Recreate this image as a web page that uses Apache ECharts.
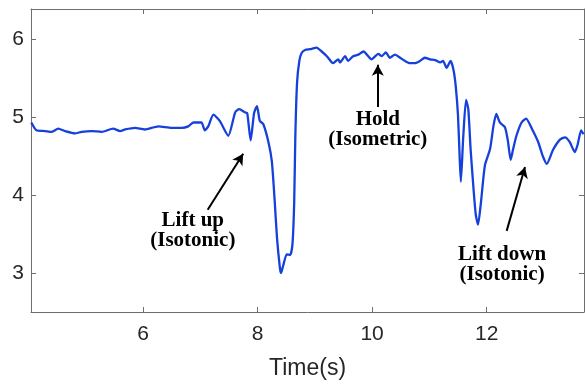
<!DOCTYPE html>
<html>
<head>
<meta charset="utf-8">
<script src="https://cdn.jsdelivr.net/npm/echarts@6/dist/echarts.min.js"></script>
<style>
  html, body { margin: 0; padding: 0; background: #fff; }
  #chart { width: 585px; height: 385px; }
</style>
</head>
<body>
<div id="chart"></div>
<script>
// time (s) and signal values
const times = [
  4.05, 4.14, 4.29, 4.41, 4.52, 4.64, 4.81, 4.93, 5.10, 5.28,
  5.48, 5.60, 5.69, 5.86, 6.03, 6.27, 6.50, 6.68, 6.79, 6.88,
  7.02, 7.08, 7.14, 7.23, 7.34, 7.49, 7.61, 7.68, 7.78, 7.82,
  7.88, 7.94, 7.99, 8.04, 8.10, 8.19, 8.25, 8.30, 8.34, 8.39,
  8.41, 8.45, 8.51, 8.57, 8.61, 8.64, 8.66, 8.69, 8.73, 8.77,
  8.83, 8.92, 9.03, 9.12, 9.21, 9.32, 9.41, 9.44, 9.53, 9.58,
  9.67, 9.76, 9.85, 9.92, 9.99, 10.11, 10.17, 10.24, 10.31, 10.40,
  10.49, 10.57, 10.66, 10.75, 10.84, 10.92, 11.01, 11.10, 11.19, 11.24,
  11.30, 11.37, 11.42, 11.46, 11.50, 11.53, 11.55, 11.59, 11.64, 11.68,
  11.72, 11.77, 11.81, 11.85, 11.90, 11.97, 12.06, 12.12, 12.17, 12.23,
  12.32, 12.37, 12.42, 12.46, 12.52, 12.61, 12.69, 12.79, 12.90, 12.98,
  13.05, 13.16, 13.28, 13.37, 13.45, 13.54, 13.59, 13.65, 13.69
];
const values = [
  4.93, 4.83, 4.82, 4.81, 4.85, 4.82, 4.79, 4.81, 4.82, 4.81,
  4.85, 4.82, 4.84, 4.86, 4.84, 4.88, 4.86, 4.86, 4.88, 4.93,
  4.93, 4.83, 4.88, 5.03, 4.95, 4.76, 5.06, 5.10, 5.06, 5.05,
  4.70, 5.05, 5.14, 4.95, 4.91, 4.68, 4.43, 3.92, 3.45, 3.07,
  3.00, 3.10, 3.24, 3.23, 3.37, 3.90, 4.75, 5.44, 5.72, 5.82,
  5.86, 5.87, 5.89, 5.84, 5.78, 5.69, 5.74, 5.70, 5.78, 5.72,
  5.78, 5.80, 5.84, 5.79, 5.74, 5.81, 5.78, 5.83, 5.76, 5.80,
  5.76, 5.72, 5.69, 5.69, 5.72, 5.76, 5.74, 5.73, 5.70, 5.72,
  5.63, 5.72, 5.61, 5.40, 5.02, 4.47, 4.17, 4.72, 5.22, 5.10,
  4.59, 4.09, 3.75, 3.62, 3.90, 4.38, 4.59, 4.89, 5.04, 4.93,
  4.87, 4.70, 4.45, 4.58, 4.76, 4.93, 4.98, 4.85, 4.68, 4.50,
  4.40, 4.58, 4.71, 4.74, 4.68, 4.55, 4.65, 4.83, 4.78
];
const xTicks = [6, 8, 10, 12];
const yTicks = [3, 4, 5, 6];

// annotations: [fromT, fromV, toT, toV]
const arrows = [
  [7.13, 3.81, 7.75, 4.53],
  [10.10, 5.13, 10.10, 5.67],
  [12.35, 3.54, 12.67, 4.36]
];
const notes = [
  { t: 6.87, v: 3.675, text: 'Lift up' },
  { t: 6.87, v: 3.42, text: '(Isotonic)' },
  { t: 10.10, v: 4.963, text: 'Hold' },
  { t: 10.10, v: 4.71, text: '(Isometric)' },
  { t: 12.27, v: 3.23, text: 'Lift down' },
  { t: 12.27, v: 2.98, text: '(Isotonic)' }
];

const X_MIN = 4.045, X_MAX = 13.7;
const Y_MIN = 2.5, Y_MAX = 6.385;

const chart = echarts.init(document.getElementById('chart'), null, { renderer: 'canvas' });

const axisLine = { show: true, lineStyle: { color: '#6e6e6e', width: 1 } };
const tickStyle = { color: '#6e6e6e', width: 1 };

const option = {
  animation: false,
  grid: { left: 31, right: 1, top: 9, bottom: 70, containLabel: false },
  xAxis: [
    {
      type: 'value', min: X_MIN, max: X_MAX, position: 'bottom',
      name: 'Time(s)', nameLocation: 'middle', nameGap: 45,
      nameTextStyle: { fontFamily: 'Liberation Sans', fontSize: 23, color: '#262626' },
      axisLine: axisLine,
      axisTick: { show: true, inside: true, length: 5, lineStyle: tickStyle, customValues: xTicks },
      axisLabel: { show: true, customValues: xTicks, margin: 12, fontFamily: 'Liberation Sans', fontSize: 21, color: '#262626' },
      splitLine: { show: false }
    },
    {
      type: 'value', min: X_MIN, max: X_MAX, position: 'top',
      axisLine: axisLine,
      axisTick: { show: true, inside: true, length: 5, lineStyle: tickStyle, customValues: xTicks },
      axisLabel: { show: false },
      splitLine: { show: false }
    }
  ],
  yAxis: [
    {
      type: 'value', min: Y_MIN, max: Y_MAX, position: 'left',
      axisLine: axisLine,
      axisTick: { show: true, inside: true, length: 5, lineStyle: tickStyle, customValues: yTicks },
      axisLabel: { show: true, customValues: yTicks, margin: 7, fontFamily: 'Liberation Sans', fontSize: 21, color: '#262626' },
      splitLine: { show: false }
    },
    {
      type: 'value', min: Y_MIN, max: Y_MAX, position: 'right',
      axisLine: axisLine,
      axisTick: { show: true, inside: true, length: 5, lineStyle: tickStyle, customValues: yTicks },
      axisLabel: { show: false },
      splitLine: { show: false }
    }
  ],
  series: [
    {
      type: 'line',
      xAxisIndex: 0,
      yAxisIndex: 0,
      data: times.map((t, i) => [t, values[i]]),
      showSymbol: false,
      smooth: 0.2,
      lineStyle: { color: '#1540dc', width: 2.3 },
      markLine: {
        silent: true,
        symbol: ['none', 'arrow'],
        symbolSize: [9, 11],
        label: { show: false },
        lineStyle: { color: '#000', width: 2, type: 'solid' },
        data: arrows.map(a => [{ coord: [a[0], a[1]] }, { coord: [a[2], a[3]] }])
      }
    }
  ]
};

chart.setOption(option);

// place annotation text by data coordinates
chart.setOption({
  graphic: notes.map(n => {
    const p = chart.convertToPixel({ xAxisIndex: 0, yAxisIndex: 0 }, [n.t, n.v]);
    return {
      type: 'text',
      x: p[0],
      y: p[1],
      style: {
        text: n.text,
        fill: '#000',
        font: 'bold 21px "Liberation Serif", "Times New Roman", serif',
        textAlign: 'center',
        textVerticalAlign: 'middle'
      }
    };
  })
});
</script>
</body>
</html>
